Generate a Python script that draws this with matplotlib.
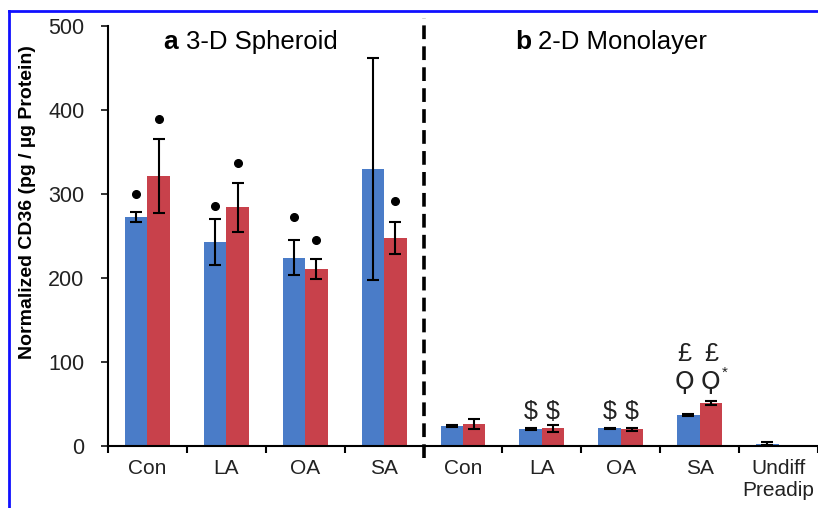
import numpy as np
import matplotlib
matplotlib.use("Agg")
import matplotlib.pyplot as plt
from matplotlib.lines import Line2D

plt.rcParams['font.family'] = ['Liberation Sans', 'DejaVu Sans']

# 3-D spheroid groups (0-3) and 2-D monolayer groups (4-8)
categories = ['Con', 'LA', 'OA', 'SA', 'Con', 'LA', 'OA', 'SA', 'Undiff\nPreadip']
blue_vals = [273, 243, 224, 330, 24, 20, 21, 37, 3]
blue_err = [6, 27, 21, 132, 1, 1, 1, 1, 2]
red_vals = [321, 284, 211, 248, 26, 21, 20, 51.5, np.nan]
red_err = [44, 29, 12, 19, 6, 4, 2, 2.5, np.nan]

# significance dots above the 3-D bars
dot_blue_y = [300, 286, 273, np.nan]
dot_red_y = [389, 337, 245, 292]

blue = '#4a7cc8'
red = '#c8414b'

fig = plt.figure(figsize=(8.18, 5.08), dpi=100)
ax = fig.add_axes([0.132, 0.122, 0.868, 0.827])

x = np.arange(len(categories))
w = 0.285
ax.bar(x - w / 2, blue_vals, w, color=blue, zorder=2)
ax.bar(x + w / 2, red_vals, w, color=red, zorder=2)
ax.errorbar(x - w / 2, blue_vals, yerr=blue_err, fmt='none', ecolor='black',
            elinewidth=1.5, capsize=4.5, capthick=1.5, zorder=3)
ax.errorbar(x + w / 2, red_vals, yerr=red_err, fmt='none', ecolor='black',
            elinewidth=1.5, capsize=4.5, capthick=1.5, zorder=3)

ax.plot(x[:4] - w / 2, dot_blue_y, 'o', color='black', ms=5.5, ls='none')
ax.plot(x[:4] + w / 2, dot_red_y, 'o', color='black', ms=5.5, ls='none')

# symbols over the 2-D bars
sym_kw = dict(ha='center', va='center', fontsize=18, color='#222222')
for xi in (5, 6):
    ax.text(xi - w / 2, 41, '$', **sym_kw)
    ax.text(xi + w / 2, 41, '$', **sym_kw)
ax.text(7 - w / 2 - 0.05, 109, '£', **sym_kw)
ax.text(7 + w / 2, 109, '£', **sym_kw)
ax.text(7 - w / 2 - 0.05, 76, 'Ϙ', family=['DejaVu Sans'], **sym_kw)
ax.text(7 + w / 2, 76, 'Ϙ', family=['DejaVu Sans'], **sym_kw)
ax.text(7 + w / 2 + 0.18, 87, '*', ha='center', va='center', fontsize=11, color='#222222')

# divider between the two panels
ax.plot([3.5, 3.5], [-14, 510], color='black', lw=2.6, ls=(0, (3.8, 2)),
        clip_on=False, zorder=4)

# panel titles
ax.text(0.2, 481, 'a', fontsize=19, fontweight='bold', va='center')
ax.text(0.49, 481, '3-D Spheroid', fontsize=18.5, va='center')
ax.text(4.66, 481, 'b', fontsize=19, fontweight='bold', va='center')
ax.text(4.95, 481, '2-D Monolayer', fontsize=18.5, va='center')

ax.set_xlim(-0.5, 8.5)
ax.set_ylim(0, 500)
ax.set_yticks([0, 100, 200, 300, 400, 500])
ax.tick_params(axis='y', labelsize=15.5, length=5, width=1.3, pad=12, colors='#222222')
ax.set_xticks(x)
ax.set_xticklabels(categories, fontsize=15, color='#222222')
ax.set_xticks(np.arange(-0.5, 9.0, 1.0), minor=True)
ax.tick_params(axis='x', which='major', length=0, pad=9)
ax.tick_params(axis='x', which='minor', length=5, width=1.5, direction='out')

for side in ('top', 'right'):
    ax.spines[side].set_visible(False)
ax.spines['left'].set_linewidth(1.5)
ax.spines['bottom'].set_linewidth(1.5)

ax.set_ylabel('Normalized CD36 (pg / µg Protein)', fontsize=14, fontweight='bold')
ax.yaxis.set_label_coords(-0.101, 0.58)

# frame lines
fig.add_artist(Line2D([9 / 818, 1], [1 - 11 / 508, 1 - 11 / 508], color='#1010ff', lw=2))
fig.add_artist(Line2D([9 / 818, 9 / 818], [0, 1 - 11 / 508], color='#1010ff', lw=2))

fig.savefig('out.png', dpi=100)
